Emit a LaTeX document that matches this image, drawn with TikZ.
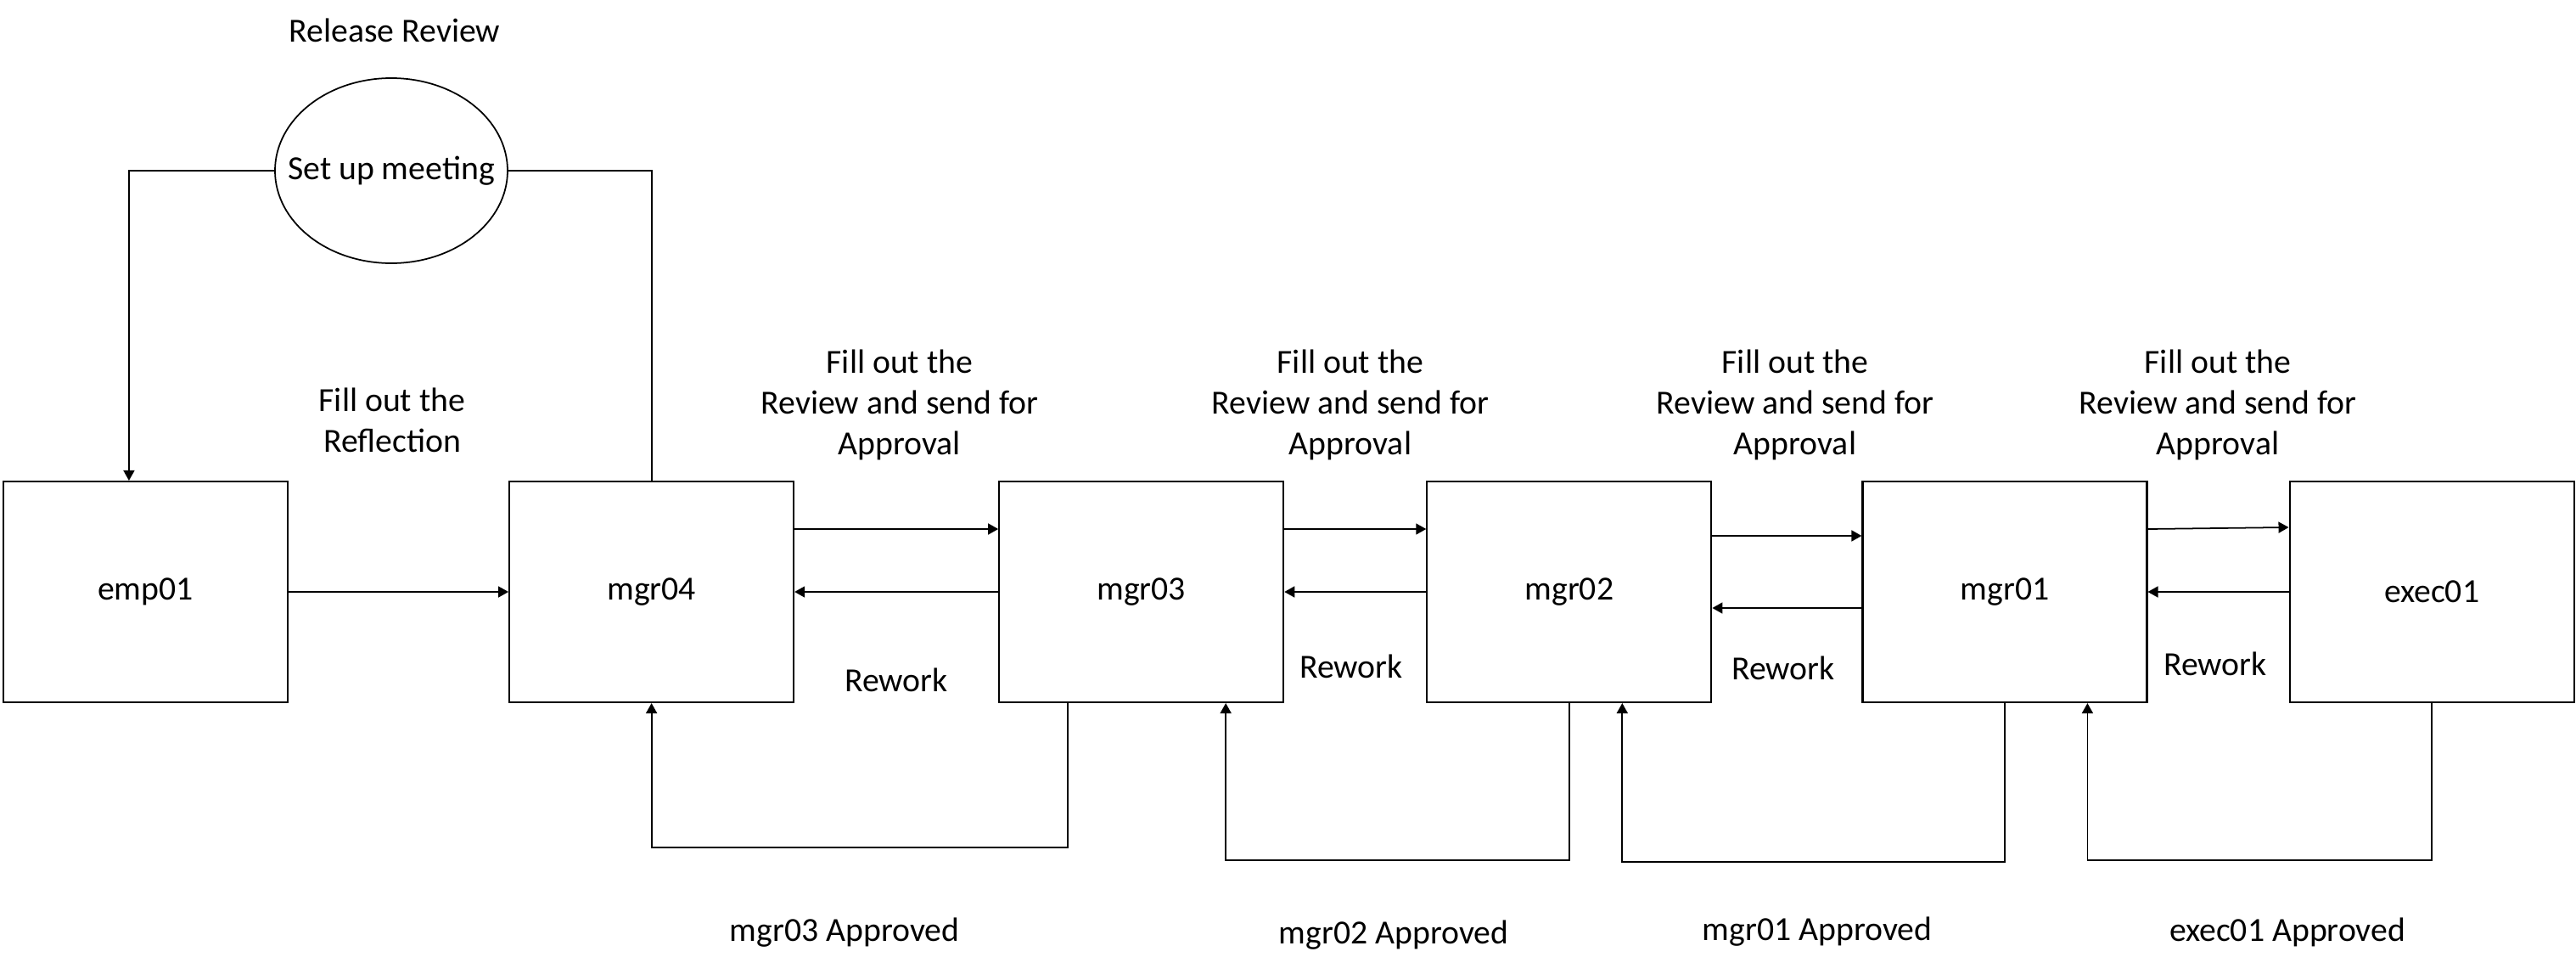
\documentclass[tikz,border=0pt]{standalone}
\usepackage{fontspec}
\setmainfont{Carlito}
\usepackage{xcolor}
\definecolor{cLine}{HTML}{000000}
\usepackage{tikz}
\usetikzlibrary{positioning,arrows.meta,calc,shapes.geometric}
\tikzset{
  node-box/.style={draw=cLine,line width=0.6pt,minimum width=33.5mm,
    minimum height=26mm,inner sep=0pt,align=center},
  node-meet/.style={draw=cLine,line width=0.5pt,ellipse,minimum width=27.4mm,
    minimum height=21.8mm,inner sep=0pt},
  node-label/.style={align=center,inner sep=0pt},
  arrow/.style={-{Triangle[length=1.2mm,width=1.3mm]},line width=0.5pt,draw=cLine},
  link/.style={line width=0.5pt,draw=cLine},
}

\begin{document}
\begin{tikzpicture}[every node/.style={font=\fontsize{11.3}{13.7}\selectfont}]
  \useasboundingbox (0,0) rectangle (30.35,-11.46);
  % reviewers, left to right
  \node[node-box] (emp01) at (1.715,-6.97) {emp01};
  \node[node-box,right=2.59cm of emp01] (mgr04) {mgr04};
  \node[node-box,right=2.40cm of mgr04] (mgr03) {mgr03};
  \node[node-box,right=1.67cm of mgr03] (mgr02) {mgr02};
  \node[node-box,right=1.76cm of mgr02] (mgr01) {mgr01};
  \node[node-box,right=1.66cm of mgr01] (exec01) {exec01};
  % meeting on top
  \node[node-meet,label={center:Set up meeting}] (meet) at (4.61,-2.01) {};
  \node[node-label] (release) at (4.65,-0.36) {Release Review};
  \node[node-label] (reflect) at (4.62,-4.95) {Fill out the\\Reflection};
  % labels over the forward arrows
  \node[node-label] (fill1) at (10.60,-4.77) {Fill out the\\Review and send for\\Approval};
  \node[node-label] (fill2) at (15.91,-4.77) {Fill out the\\Review and send for\\Approval};
  \node[node-label] (fill3) at (21.15,-4.77) {Fill out the\\Review and send for\\Approval};
  \node[node-label] (fill4) at (26.13,-4.77) {Fill out the\\Review and send for\\Approval};
  \node[node-label] (rework1) at (10.56,-8.01) {Rework};
  \node[node-label] (rework2) at (15.92,-7.85) {Rework};
  \node[node-label] (rework3) at (21.01,-7.87) {Rework};
  \node[node-label] (rework4) at (26.10,-7.82) {Rework};
  \node[node-label] (ok3) at (9.95,-10.98) {mgr03 Approved};
  \node[node-label] (ok2) at (16.42,-11.01) {mgr02 Approved};
  \node[node-label] (ok1) at (21.41,-10.97) {mgr01 Approved};
  \node[node-label] (okx) at (26.95,-10.98) {exec01 Approved};
  % meeting loop
  \draw[arrow] (meet.west) -| ($(emp01.north west)+(1.49,0)$);
  \draw[link] (meet.east) -| (mgr04.north);
  \draw[arrow] (emp01) -- (mgr04);
  % send for approval
  \draw[arrow] ([yshift=7.4mm]mgr04.east) -- ([yshift=7.4mm]mgr03.west);
  \draw[arrow] ([yshift=7.4mm]mgr03.east) -- ([yshift=7.4mm]mgr02.west);
  \draw[arrow] ([yshift=6.6mm]mgr02.east) -- ([yshift=6.6mm]mgr01.west);
  \draw[arrow] ([yshift=7.4mm]mgr01.east) -- ([yshift=7.6mm]exec01.west);
  % rework
  \draw[arrow] (mgr03) -- (mgr04);
  \draw[arrow] (mgr02) -- (mgr03);
  \draw[arrow] ([yshift=-1.9mm]mgr01.west) -- ([yshift=-1.9mm]mgr02.east);
  \draw[arrow] (exec01) -- (mgr01);
  % approved
  \draw[arrow] ($(mgr03.south west)+(0.82,0)$) -- ++(0,-1.70) -| (mgr04.south);
  \draw[arrow] (mgr02.south) -- ++(0,-1.85) -| ($(mgr03.south west)+(2.68,0)$);
  \draw[arrow] (mgr01.south) -- ++(0,-1.87) -| ($(mgr02.south west)+(2.31,0)$);
  \draw[arrow] (exec01.south) -- ++(0,-1.85) -| ($(mgr01.south west)+(2.66,0)$);
\end{tikzpicture}
\end{document}
